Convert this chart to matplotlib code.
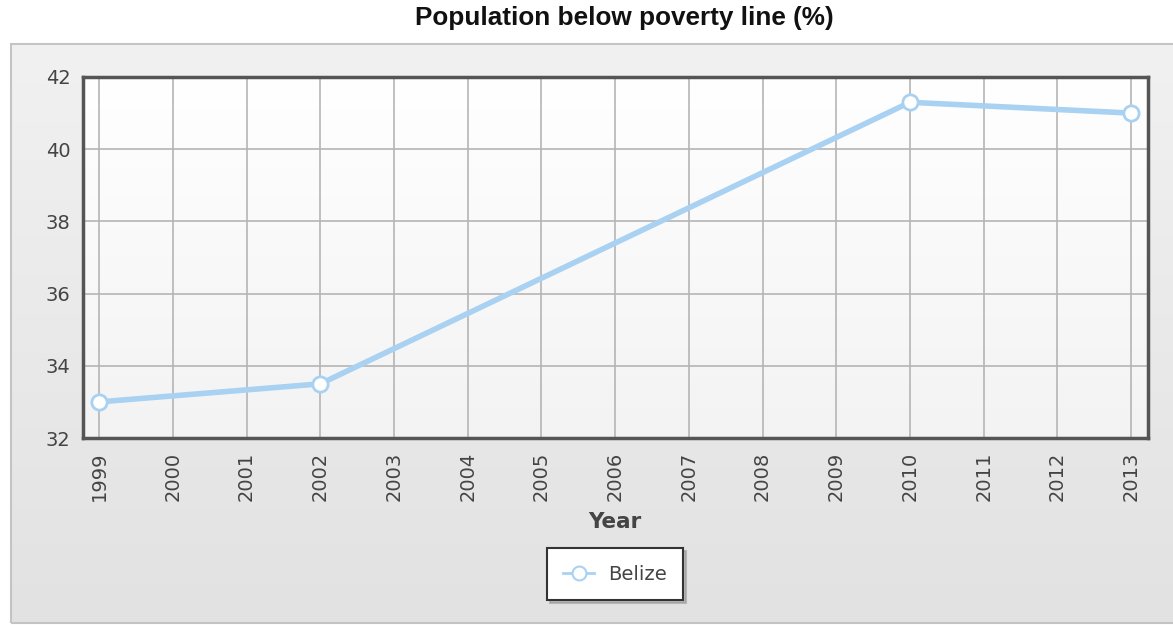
import numpy as np
import matplotlib
matplotlib.use("Agg")
import matplotlib.pyplot as plt
from matplotlib.patches import Rectangle
from matplotlib.lines import Line2D
from matplotlib.colors import LinearSegmentedColormap

# data
years = [1999, 2002, 2010, 2013]
poverty = [33.0, 33.5, 41.3, 41.0]
year_ticks = list(range(1999, 2014))
y_ticks = [32, 34, 36, 38, 40, 42]
series_name = "Belize"
title = "Population below poverty line (%)"

W, H = 1173, 625
fig = plt.figure(figsize=(W / 100, H / 100), dpi=100)
fig.patch.set_facecolor("white")

# grey chart panel with a soft vertical gradient
grad = np.linspace(0, 1, 256).reshape(-1, 1)
bg = fig.add_axes([11 / W, 1 - 623 / H, (W - 11) / W, (623 - 44) / H], zorder=0)
bg.imshow(grad, aspect="auto", extent=[0, 1, 0, 1], origin="upper",
          cmap=LinearSegmentedColormap.from_list("panel", ["#f1f1f1", "#e2e2e2"]))
bg.set_xlim(0, 1)
bg.set_ylim(0, 1)
bg.set_axis_off()
bg.add_patch(Rectangle((0, 0), 1.2, 1, fill=False, edgecolor="#c4c4c4", lw=1.5,
                       transform=bg.transAxes, clip_on=False))

fig.text(624 / W, 1 - 18 / H, title, ha="center", va="center",
         fontsize=18.8, fontweight="bold", family="Liberation Sans", color="#111111")

xmin, xmax = 1998.78, 2013.23
ax = fig.add_axes([83 / W, 1 - 438 / H, (1148 - 83) / W, (438 - 77) / H], zorder=2)
# white plot area fading to a faint grey at the bottom
ax.imshow(grad, aspect="auto", extent=[xmin, xmax, 32, 42], origin="upper", zorder=0,
          cmap=LinearSegmentedColormap.from_list("plot", ["#ffffff", "#f3f3f3"]))

ax.plot(years, poverty, color="#a9d1f2", lw=4, solid_capstyle="round", zorder=3,
        marker="o", markersize=11, markerfacecolor="white", markeredgecolor="#a9d1f2",
        markeredgewidth=2)

ax.set_xlim(xmin, xmax)
ax.set_ylim(32, 42)
ax.set_xticks(year_ticks)
ax.set_xticklabels([str(y) for y in year_ticks], rotation=90)
ax.set_yticks(y_ticks)
ax.grid(True, color="#b5b5b5", lw=1.2)
ax.set_axisbelow(True)
ax.tick_params(length=0, labelsize=14, labelcolor="#444444")
ax.tick_params(axis="y", pad=9)
ax.tick_params(axis="x", pad=10)
for s in ax.spines.values():
    s.set_color("#555555")
    s.set_linewidth(2.5)

fig.text(615 / W, 1 - 522 / H, "Year", ha="center", va="center",
         fontsize=15.5, fontweight="bold", color="#444444")

handle = Line2D([], [], color="#a9d1f2", lw=2, marker="o", markersize=10,
                markerfacecolor="white", markeredgecolor="#a9d1f2", markeredgewidth=1.5)
leg = fig.legend([handle], [series_name], loc="center", bbox_to_anchor=(615 / W, 1 - 574 / H),
                 fontsize=14, frameon=True, fancybox=False, shadow={"color": "#9a9a9a", "alpha": 0.6},
                 handlelength=1.6, borderpad=0.85, handletextpad=0.7, borderaxespad=0)
leg.get_frame().set_edgecolor("#333333")
leg.get_frame().set_linewidth(1.5)
for t in leg.get_texts():
    t.set_color("#444444")

fig.savefig("out.png", dpi=100)
